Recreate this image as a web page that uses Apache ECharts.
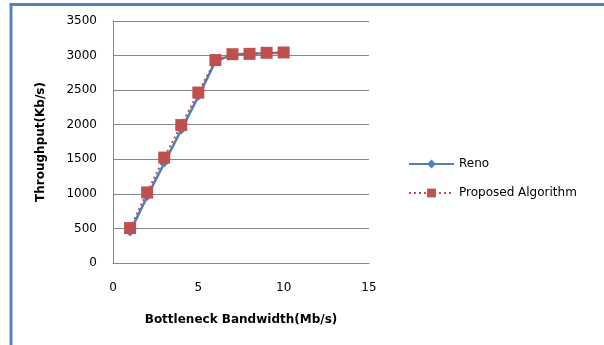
<!DOCTYPE html>
<html>
<head>
<meta charset="utf-8">
<script src="https://cdn.jsdelivr.net/npm/echarts@6/dist/echarts.min.js"></script>
<style>
  html, body { margin: 0; padding: 0; background: #fff; }
  #chart { width: 604px; height: 345px; }
</style>
</head>
<body>
<div id="chart"></div>
<script>
// Bottleneck bandwidth (Mb/s) on the x axis
const bandwidth = [1, 2, 3, 4, 5, 6, 7, 8, 9, 10];
// Throughput (Kb/s) for each congestion-control variant
const renoThroughput = [450, 960, 1445, 1925, 2410, 2915, 3015, 3025, 3035, 3040];
const proposedThroughput = [505, 1020, 1525, 1995, 2465, 2935, 3020, 3025, 3040, 3045];
const seriesNames = ['Reno', 'Proposed Algorithm'];

const pairs = (xs, ys) => xs.map((x, i) => [x, ys[i]]);

const font = '"DejaVu Sans", "Liberation Sans", sans-serif';
const chart = echarts.init(document.getElementById('chart'), null, { renderer: 'canvas' });

chart.setOption({
  animation: false,
  backgroundColor: '#ffffff',
  grid: { left: 113, right: 235, top: 21, bottom: 82, containLabel: false },
  graphic: [
    {
      type: 'polyline',
      shape: { points: [[11, 345], [11, 4.5], [604, 4.5]] },
      style: { stroke: '#5682C0', lineWidth: 3, fill: null }
    }
  ],
  legend: {
    orient: 'vertical',
    left: 403,
    top: 153,
    itemWidth: 45,
    itemHeight: 11,
    itemGap: 17,
    textStyle: { fontFamily: font, fontSize: 12, color: '#000' },
    data: seriesNames
  },
  xAxis: {
    type: 'value',
    min: 0,
    max: 15,
    interval: 5,
    name: 'Bottleneck Bandwidth(Mb/s)',
    nameLocation: 'middle',
    nameGap: 51,
    nameTextStyle: { fontFamily: font, fontSize: 12, fontWeight: 'bold', color: '#000' },
    axisLine: { show: true, onZero: false, lineStyle: { color: '#868686', width: 1 } },
    axisTick: { show: false },
    splitLine: { show: false },
    axisLabel: { fontFamily: font, fontSize: 12, color: '#000', margin: 19 }
  },
  yAxis: {
    type: 'value',
    min: 0,
    max: 3500,
    interval: 500,
    name: 'Throughput(Kb/s)',
    nameLocation: 'middle',
    nameGap: 66,
    nameTextStyle: { fontFamily: font, fontSize: 12, fontWeight: 'bold', color: '#000' },
    axisLine: { show: true, lineStyle: { color: '#868686', width: 1 } },
    axisTick: { show: false },
    splitLine: { show: true, lineStyle: { color: '#868686', width: 1 } },
    axisLabel: { fontFamily: font, fontSize: 12, color: '#000', margin: 16, formatter: v => String(v) }
  },
  series: [
    {
      name: seriesNames[0],
      type: 'line',
      data: pairs(bandwidth, renoThroughput),
      symbol: 'diamond',
      symbolSize: 9,
      lineStyle: { color: '#4F81BD', width: 2.5 },
      itemStyle: { color: '#4F81BD' },
      z: 2
    },
    {
      name: seriesNames[1],
      type: 'line',
      data: pairs(bandwidth, proposedThroughput),
      symbol: 'rect',
      symbolSize: 12,
      lineStyle: { color: '#C0504D', width: 2, type: [2, 3] },
      itemStyle: { color: '#C0504D' },
      z: 3
    }
  ]
});
</script>
</body>
</html>
